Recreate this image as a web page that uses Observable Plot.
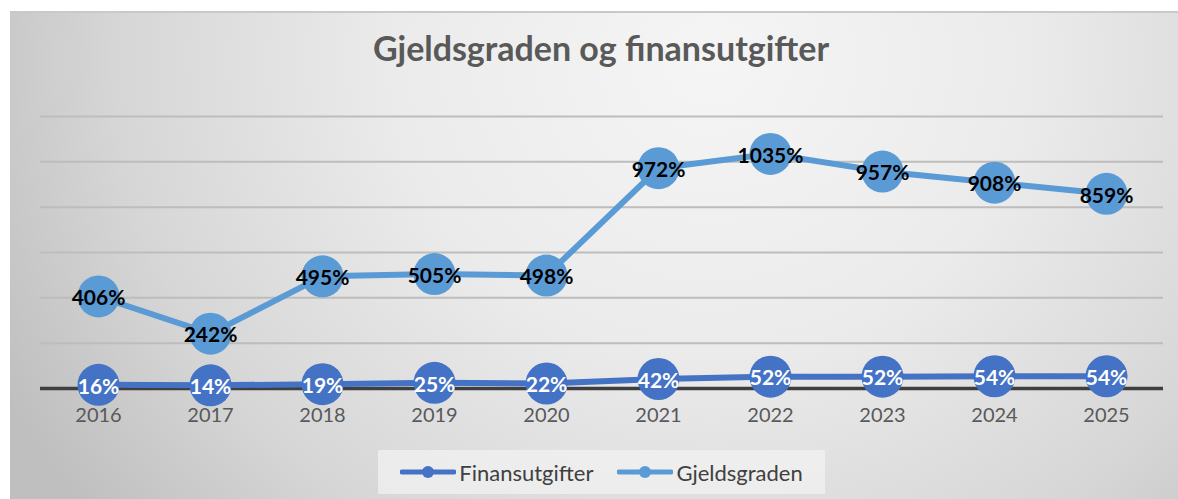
<!DOCTYPE html>
<html>
<head>
<meta charset="utf-8">
<script src="https://cdn.jsdelivr.net/npm/d3@7"></script>
<script src="https://cdn.jsdelivr.net/npm/@observablehq/plot@0.6"></script>
<style>
  html, body { margin: 0; padding: 0; background: #ffffff; width: 1178px; height: 499px; overflow: hidden; }
  #frame {
    position: absolute; left: 10px; top: 11px; width: 1168px; height: 488px;
    border-top: 2px solid #c9c9c9; box-sizing: border-box;
    background: radial-gradient(ellipse 68% 150% at 60% 10%, #f5f5f5 0%, #ebebeb 40%, #d6d6d6 75%, #bfbfbf 100%);
    font-family: Lato, "Open Sans", sans-serif;
  }
  #title {
    position: absolute; left: 14px; width: 1154px; top: 15px; text-align: center;
    font-size: 34px; font-weight: bold; color: #595959; line-height: 40px;
  }
  #chart { position: absolute; left: 0; top: 78px; }
  #chart svg g[aria-label="x-axis tick label"] text, #chart svg g[aria-label="x-axis"] text { font-size: 20px; }
  #legend {
    position: absolute; left: 368px; top: 437px; width: 447px; height: 44px;
    background: rgba(242,242,242,0.75); display: flex; align-items: center; justify-content: center; gap: 24px;
    font-size: 22px; color: #404040;
  }
  .item { display: flex; align-items: center; gap: 3px; }
</style>
</head>
<body>
<div id="frame">
  <div id="title">Gjeldsgraden og finansutgifter</div>
  <div id="chart"></div>
  <div id="legend"></div>
</div>
<script>
const years = ["2016","2017","2018","2019","2020","2021","2022","2023","2024","2025"];
const finansutgifter = [16, 14, 19, 25, 22, 42, 52, 52, 54, 54];
const gjeldsgraden = [406, 242, 495, 505, 498, 972, 1035, 957, 908, 859];
const yTicks = [0, 200, 400, 600, 800, 1000, 1200];
const seriesNames = ["Finansutgifter", "Gjeldsgraden"];
const seriesColors = ["#4472c4", "#5b9bd5"];
const labelColors = ["#ffffff", "#000000"];

const fin = years.map((y, i) => ({year: y, value: finansutgifter[i]}));
const gjeld = years.map((y, i) => ({year: y, value: gjeldsgraden[i]}));

const chart = Plot.plot({
  width: 1168,
  height: 340,
  marginLeft: 30,
  marginRight: 15,
  marginTop: 25,
  marginBottom: 43,
  style: {background: "transparent", fontFamily: "Lato, sans-serif", fontSize: "20px", color: "#595959"},
  x: {type: "point", domain: years, padding: 0.5, tickSize: 0, tickPadding: 19, label: null},
  y: {domain: [0, 1200], axis: null},
  marks: [
    Plot.ruleY(yTicks.slice(1), {stroke: "#bdbdbd", strokeWidth: 2}),
    Plot.ruleY([0], {stroke: "#3f3f3f", strokeWidth: 3.5}),
    Plot.line(fin, {x: "year", y: "value", stroke: seriesColors[0], strokeWidth: 6}),
    Plot.line(gjeld, {x: "year", y: "value", stroke: seriesColors[1], strokeWidth: 6}),
    Plot.dot(fin, {x: "year", y: "value", r: 21, fill: seriesColors[0], stroke: "none"}),
    Plot.dot(gjeld, {x: "year", y: "value", r: 21, fill: seriesColors[1], stroke: "none"}),
    Plot.text(fin, {x: "year", y: "value", text: d => d.value + "%", fill: labelColors[0], fontSize: 21, fontWeight: "bold", dy: 2}),
    Plot.text(gjeld, {x: "year", y: "value", text: d => d.value + "%", fill: labelColors[1], fontSize: 21, fontWeight: "bold", dy: 2})
  ]
});
document.getElementById("chart").appendChild(chart);

const legend = document.getElementById("legend");
seriesNames.forEach((name, i) => {
  const item = document.createElement("div");
  item.className = "item";
  item.innerHTML = `<svg width="56" height="16"><line x1="2" y1="8" x2="54" y2="8" stroke="${seriesColors[i]}" stroke-width="5" stroke-linecap="round"/><circle cx="28" cy="8" r="6" fill="${seriesColors[i]}"/></svg><span>${name}</span>`;
  legend.appendChild(item);
});
</script>
</body>
</html>
